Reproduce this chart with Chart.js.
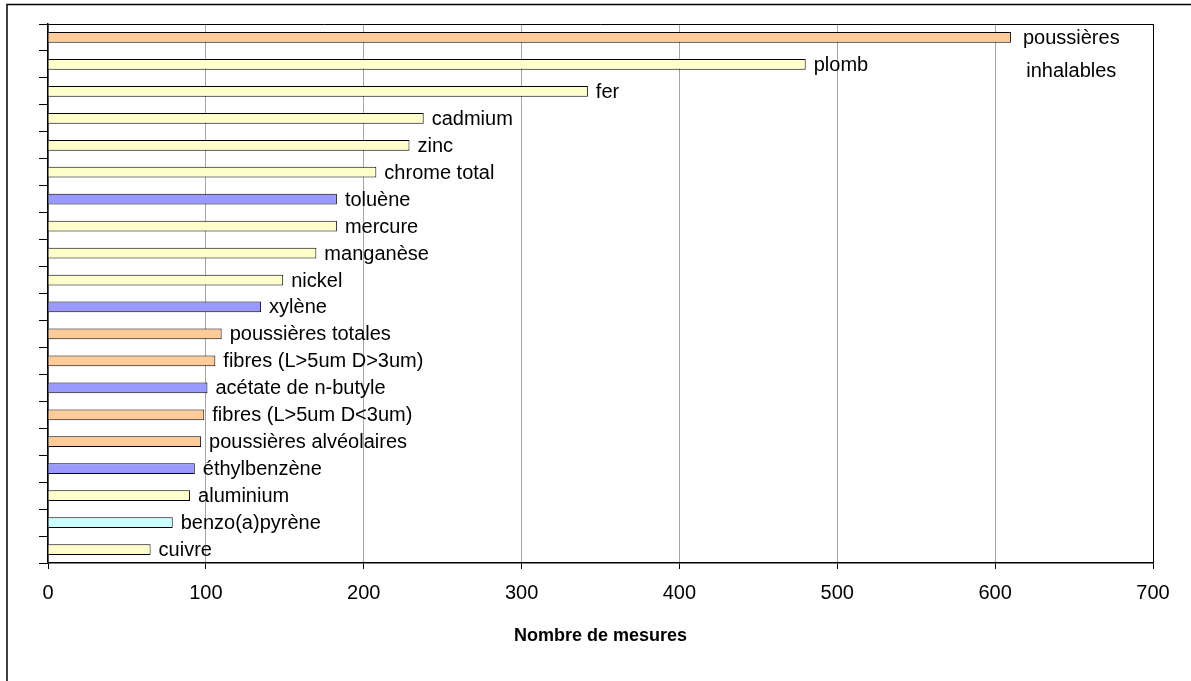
<!DOCTYPE html>
<html>
<head>
<meta charset="utf-8">
<script src="https://cdn.jsdelivr.net/npm/chart.js@4.4.1/dist/chart.umd.min.js"></script>
<style>
  body { margin: 0; background: #fff; }
  #wrap { position: relative; width: 1191px; height: 681px; }
</style>
</head>
<body>
<div id="wrap"><canvas id="myChart"></canvas></div>
<script>
// polluants, du plus mesuré au moins mesuré
const categories = [
  ['poussières', 'inhalables'], 'plomb', 'fer', 'cadmium', 'zinc', 'chrome total',
  'toluène', 'mercure', 'manganèse', 'nickel', 'xylène', 'poussières totales',
  'fibres (L>5um D>3um)', 'acétate de n-butyle', 'fibres (L>5um D<3um)',
  'poussières alvéolaires', 'éthylbenzène', 'aluminium', 'benzo(a)pyrène', 'cuivre'
];
const mesures = [610, 480, 342, 238, 229, 208, 183, 183, 170, 149, 135, 110, 106, 101, 99, 97, 93, 90, 79, 65];
const familles = [
  'particules', 'metal', 'metal', 'metal', 'metal', 'metal',
  'solvant', 'metal', 'metal', 'metal', 'solvant', 'particules',
  'particules', 'solvant', 'particules', 'particules', 'solvant', 'metal', 'hap', 'metal'
];
const xTicks = [0, 100, 200, 300, 400, 500, 600, 700];

const couleurs = {
  particules: '#FFCC99',
  metal: '#FFFFCC',
  solvant: '#9999FF',
  hap: '#CCFFFF'
};

const FONT = "'Liberation Sans', Arial, sans-serif";

// cadre extérieur + bord haut/droit de la zone de tracé
const cadre = {
  id: 'cadre',
  afterDraw(chart) {
    const c = chart.ctx, a = chart.chartArea;
    c.save();
    c.strokeStyle = '#000';
    c.lineWidth = 1.5;
    c.beginPath();
    c.moveTo(7, 681); c.lineTo(7, 4.5); c.lineTo(1191, 4.5);
    c.stroke();
    c.lineWidth = 1;
    c.beginPath();
    c.moveTo(a.left, a.top + 0.5); c.lineTo(a.right + 0.5, a.top + 0.5); c.lineTo(a.right + 0.5, a.bottom);
    c.stroke();
    c.restore();
  }
};

// étiquettes à droite des barres
const etiquettes = {
  id: 'etiquettes',
  afterDatasetsDraw(chart) {
    const c = chart.ctx;
    const meta = chart.getDatasetMeta(0);
    c.save();
    c.font = '20px ' + FONT;
    c.fillStyle = '#000';
    c.textBaseline = 'middle';
    meta.data.forEach((bar, i) => {
      const lab = categories[i];
      if (Array.isArray(lab)) {
        const w = Math.max(...lab.map(t => c.measureText(t).width));
        c.textAlign = 'center';
        lab.forEach((t, k) => c.fillText(t, bar.x + 12 + w / 2, bar.y + 1 + k * 33));
      } else {
        c.textAlign = 'left';
        c.fillText(lab, bar.x + 8, bar.y + 1);
      }
    });
    c.restore();
  }
};

new Chart(document.getElementById('myChart'), {
  type: 'bar',
  data: {
    labels: categories,
    datasets: [{
      data: mesures,
      backgroundColor: familles.map(f => couleurs[f]),
      borderColor: '#000',
      borderWidth: 1,
      borderSkipped: 'left',
      barPercentage: 0.4,
      categoryPercentage: 1
    }]
  },
  options: {
    indexAxis: 'y',
    responsive: true,
    maintainAspectRatio: false,
    animation: false,
    layout: { padding: { left: 0, top: 24, right: 38, bottom: 0 } },
    plugins: {
      legend: { display: false },
      tooltip: { enabled: false }
    },
    scales: {
      x: {
        min: 0,
        max: 700,
        afterBuildTicks: (s) => { s.ticks = xTicks.map(v => ({ value: v })); },
        afterFit: (s) => { s.height = 118; },
        grid: { color: '#A6A6A6', tickColor: '#000', tickLength: 6 },
        border: { color: '#000', width: 1.5 },
        ticks: { color: '#000', font: { family: FONT, size: 20 }, padding: 12, maxRotation: 0 },
        title: {
          display: true,
          text: 'Nombre de mesures',
          color: '#000',
          font: { family: FONT, size: 18, weight: 'bold' },
          padding: { top: 0, bottom: 34 }
        }
      },
      y: {
        afterFit: (s) => { s.width = 48; },
        grid: { drawOnChartArea: false, tickColor: '#000', tickLength: 9, offset: true },
        border: { color: '#000', width: 1.5 },
        ticks: { display: false }
      }
    }
  },
  plugins: [cadre, etiquettes]
});
</script>
</body>
</html>
